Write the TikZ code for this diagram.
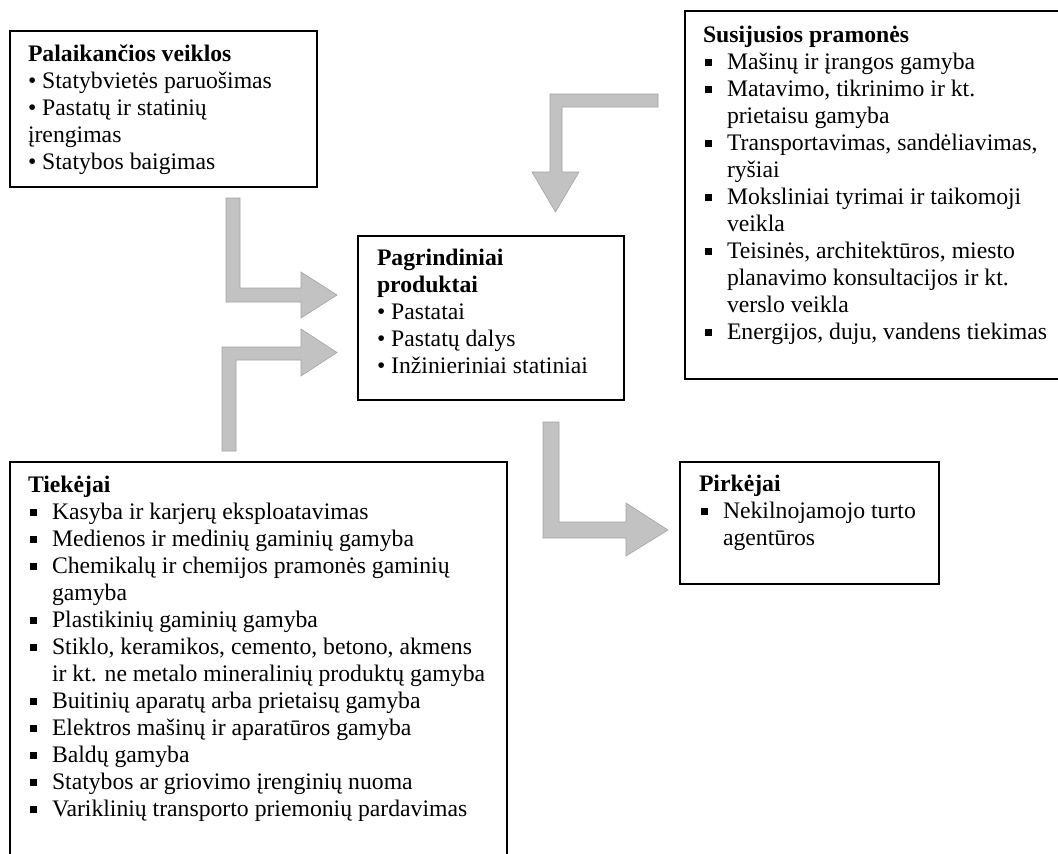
\documentclass[tikz,border=0pt]{standalone}
\usepackage{fontspec}
\setmainfont{Liberation Serif}
\newcommand{\sqb}{\makebox[24pt][l]{\hspace{2pt}\raisebox{3pt}{\rule{7pt}{7pt}}}}
\newcommand{\cont}{\hspace*{24pt}}
\newcommand{\boxtext}[1]{\begin{minipage}[t]{520pt}\fontsize{23.7}{27}\selectfont\raggedright #1\end{minipage}}
\tikzset{
  frame/.style={draw=black, line width=1.6pt, fill=none, inner sep=0pt, anchor=north west},
  txt/.style={anchor=base west, inner sep=0pt, outer sep=0pt},
  blockarrow/.style={fill=black!24, draw=black!36, line width=0.6pt, line join=miter}
}
\begin{document}
\begin{tikzpicture}[x=1pt,y=-1pt]
\useasboundingbox (0,0) rectangle (1058,854);
\fill[white] (0,0) rectangle (1058,854);

% boxes
\node[frame, minimum width=307pt, minimum height=156pt] (pal) at (9,30) {};
\node[frame, minimum width=400pt, minimum height=368pt] (sus) at (684,10) {};
\node[frame, minimum width=266pt, minimum height=164pt] (pag) at (357,235) {};
\node[frame, minimum width=497pt, minimum height=420pt] (tie) at (9,461) {};
\node[frame, minimum width=259pt, minimum height=122pt] (pir) at (679,461) {};

% texts
\node[txt] (paltxt) at (28,61) {\boxtext{%
\textbf{Palaikančios veiklos}\\
• Statybvietės paruošimas\\
• Pastatų ir statinių\\
įrengimas\\
• Statybos baigimas}};

\node[txt] (sustxt) at (703,42) {\boxtext{%
\textbf{Susijusios pramonės}\\
\sqb Mašinų ir įrangos gamyba\\
\sqb Matavimo, tikrinimo ir kt.\\
\cont prietaisu gamyba\\
\sqb Transportavimas, sandėliavimas,\\
\cont ryšiai\\
\sqb Moksliniai tyrimai ir taikomoji\\
\cont veikla\\
\sqb Teisinės, architektūros, miesto\\
\cont planavimo konsultacijos ir kt.\\
\cont verslo veikla\\
\sqb Energijos, duju, vandens tiekimas}};

\node[txt] (pagtxt) at (377,265) {\boxtext{%
\textbf{Pagrindiniai}\\
\textbf{produktai}\\
• Pastatai\\
• Pastatų dalys\\
• Inžinieriniai statiniai}};

\node[txt] (tietxt) at (28,492) {\boxtext{%
\textbf{Tiekėjai}\\
\sqb Kasyba ir karjerų eksploatavimas\\
\sqb Medienos ir medinių gaminių gamyba\\
\sqb Chemikalų ir chemijos pramonės gaminių\\
\cont gamyba\\
\sqb Plastikinių gaminių gamyba\\
\sqb Stiklo, keramikos, cemento, betono, akmens\\
\cont ir kt. ne metalo mineralinių produktų gamyba\\
\sqb Buitinių aparatų arba prietaisų gamyba\\
\sqb Elektros mašinų ir aparatūros gamyba\\
\sqb Baldų gamyba\\
\sqb Statybos ar griovimo įrenginių nuoma\\
\sqb Variklinių transporto priemonių pardavimas}};

\node[txt] (pirtxt) at (699,491) {\boxtext{%
\textbf{Pirkėjai}\\
\sqb Nekilnojamojo turto\\
\cont agentūros}};

% block arrows
% from Palaikancios veiklos
\draw[blockarrow] (226,198) -- (240,198) -- (240,288) -- (301,288) -- (301,272)
  -- (337,295) -- (301,318) -- (301,302) -- (226,302) -- cycle;
% from Tiekejai
\draw[blockarrow] (222,451) -- (222,347) -- (301,347) -- (301,329) -- (337,352.5)
  -- (301,376) -- (301,360) -- (236,360) -- (236,451) -- cycle;
% from Susijusios pramones
\draw[blockarrow] (658,94) -- (550,94) -- (550,172) -- (532,172) -- (555.5,212)
  -- (579,172) -- (562,172) -- (562,107) -- (658,107) -- cycle;
% to Pirkejai
\draw[blockarrow] (543,422) -- (559,422) -- (559,522) -- (626,522) -- (626,503)
  -- (668,530) -- (626,556) -- (626,538) -- (543,538) -- cycle;
\end{tikzpicture}
\end{document}
